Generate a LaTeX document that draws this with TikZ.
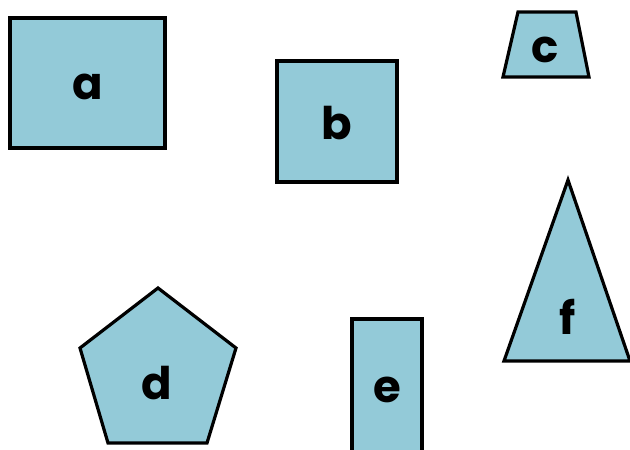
\documentclass[tikz,border=0pt]{standalone}
\usepackage{fontspec}
\setmainfont{Poppins}
\definecolor{shapefill}{RGB}{147,202,216}
\tikzset{
  shapebox/.style={draw=black, fill=shapefill, line width=3.2pt, line join=miter},
  lab/.style={font=\fontsize{45}{45}\selectfont\bfseries, inner sep=0pt}
}
\begin{document}
\begin{tikzpicture}[x=1pt,y=-1pt]
\useasboundingbox (0,0) rectangle (630,450);
\begin{scope}
\clip (0,0) rectangle (630,450);
% a
\path[shapebox] (10,18) rectangle (165,148);
% b
\path[shapebox] (277,61) rectangle (397,182);
% c
\path[shapebox] (518,12) -- (576,12) -- (589,77) -- (503,77) -- cycle;
% f
\path[shapebox] (568,180) -- (630,361) -- (504,361) -- cycle;
% d
\path[shapebox] (158,288) -- (236,348) -- (207,443) -- (108,443) -- (80,348) -- cycle;
% e
\path[shapebox] (352,319) -- (422,319) -- (422,460) -- (352,460) -- cycle;
\end{scope}
\node[lab] (la) at (88,87) {a};
\node[lab] (lb) at (337,123) {b};
\node[lab] (lc) at (545,50) {c};
\node[lab] (ld) at (157,383) {d};
\node[lab] (le) at (387,390) {e};
\node[lab] (lf) at (568,317) {f};
\end{tikzpicture}
\end{document}
